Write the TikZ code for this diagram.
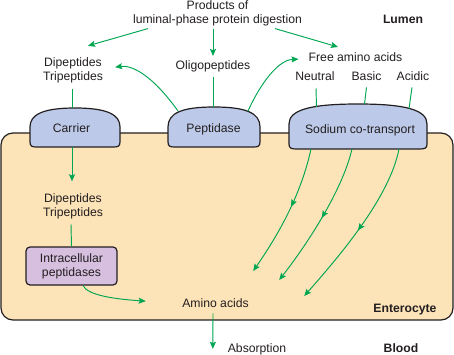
\documentclass[tikz,border=0pt]{standalone}
\usepackage{fontspec}
\setmainfont{Liberation Sans}
\usetikzlibrary{arrows.meta,decorations.markings,calc}
\definecolor{grn}{RGB}{0,166,81}
\definecolor{cellfill}{RGB}{253,227,184}
\definecolor{bumpfill}{RGB}{188,201,232}
\definecolor{boxfill}{RGB}{215,191,224}
\definecolor{ink}{RGB}{35,31,32}
\begin{document}
\begin{tikzpicture}[x=1pt,y=-1pt,
  txt/.style={inner sep=0pt, text=ink, font=\fontsize{12.2}{14}\selectfont, align=center},
  lbl/.style={inner sep=0pt, text=ink, font=\fontsize{12.2}{14}\selectfont\bfseries},
  tip/.style={-{Stealth[length=7pt,width=6pt,inset=1.2pt]}},
  flow/.style={draw=grn, line width=0.95pt, tip},
  link/.style={draw=grn, line width=0.95pt},
  outline/.style={draw=ink, line width=1.2pt},
  midarrow/.style={postaction={decorate}, decoration={markings, mark=at position #1 with {\arrow[grn]{Stealth[length=7pt,width=6pt,inset=1.2pt]}}}}
]
\useasboundingbox (0,0) rectangle (454,355);

% cell
\draw[outline, fill=cellfill, rounded corners=12pt] (1,133) rectangle (453,320);

% membrane proteins
\draw[outline, fill=bumpfill] (30,142) -- (30,127) .. controls (30,115) and (42,108) .. (75,108) .. controls (108,108) and (120,115) .. (120,127) -- (120,142) .. controls (120,146) and (118,147) .. (114,147) -- (36,147) .. controls (32,147) and (30,146) .. cycle;
\draw[outline, fill=bumpfill] (168,142) -- (168,127) .. controls (168,113) and (182,107) .. (214,107) .. controls (246,107) and (260,113) .. (260,127) -- (260,142) .. controls (260,146) and (258,147) .. (254,147) -- (174,147) .. controls (170,147) and (168,146) .. cycle;
\draw[outline, fill=bumpfill] (289,144) -- (289,124) .. controls (289,110) and (310,104) .. (358,104) .. controls (406,104) and (427,110) .. (427,124) -- (427,144) .. controls (427,148) and (425,149) .. (420,149) -- (296,149) .. controls (291,149) and (289,148) .. cycle;

\coordinate (carTop) at (72,108);
\coordinate (carBot) at (72,147);
\coordinate (pepTop) at (213,107);
\coordinate (pepL) at (178,111);
\coordinate (pepR) at (248,111);
\coordinate (naTopN) at (316.5,107);
\coordinate (naTopB) at (364.5,104);
\coordinate (naTopA) at (409,108.7);
\coordinate (naB1) at (311,149);
\coordinate (naB2) at (352,149);
\coordinate (naB3) at (399,149);

% texts
\node[txt, anchor=north] (products) at (217.5,0.3) {Products of\\luminal-phase protein digestion};
\node[lbl, anchor=base] (lumen) at (403,24) {Lumen};
\node[txt, anchor=north] (dip1) at (73,57.3) {Dipeptides\\Tripeptides};
\node[txt, anchor=base] (oligo) at (213,70) {Oligopeptides};
\node[txt, anchor=base] (free) at (355.5,62) {Free amino acids};
\node[txt, anchor=base] (neutral) at (315,81) {Neutral};
\node[txt, anchor=base] (basic) at (366.5,81) {Basic};
\node[txt, anchor=base] (acidic) at (413,81) {Acidic};
\node[txt, anchor=base] (carrier) at (71.5,133) {Carrier};
\node[txt, anchor=base] (peptidase) at (213.5,133) {Peptidase};
\node[txt, anchor=base] (sodium) at (360,133.5) {Sodium co-transport};
\node[txt, anchor=north] (dip2) at (73,193.3) {Dipeptides\\Tripeptides};
\node[txt, draw=ink, line width=1.2pt, fill=boxfill, rounded corners=4pt, minimum width=91pt, minimum height=38pt] (intra) at (71.5,266) {Intracellular\\peptidases};
\node[txt, anchor=base] (amino) at (215.5,307) {Amino acids};
\node[lbl, anchor=base] (entero) at (405,312) {Enterocyte};
\node[txt, anchor=base] (absorb) at (257,352) {Absorption};
\node[lbl, anchor=base] (blood) at (401,352) {Blood};

% lumen connectors
\draw[flow] ([xshift=-69.5pt,yshift=-2.5pt]products.south) -- ([xshift=15pt,yshift=11.5pt]dip1.north);
\draw[flow] ([xshift=-4.5pt,yshift=-2.5pt]products.south) -- ([yshift=5pt]oligo.north);
\draw[flow] ([xshift=57.5pt,yshift=-2.5pt]products.south) -- ([xshift=-17.5pt,yshift=6pt]free.north);
\draw[link] ([xshift=-1pt,yshift=-6.4pt]dip1.south) -- (carTop);
\draw[link] ([yshift=-4.5pt]oligo.south) -- (pepTop);
\draw[flow] (pepL) .. controls (150,72) and (130,65) .. ([xshift=12pt,yshift=3pt]dip1.east);
\draw[flow] (pepR) .. controls (256,93) and (275,60) .. ([xshift=-10pt,yshift=-1.5pt]free.west);
\draw[link] ([xshift=1pt,yshift=-7pt]neutral.south) -- (naTopN);
\draw[link] ([yshift=-6pt]basic.south) -- (naTopB);
\draw[link] ([xshift=-1pt,yshift=-6pt]acidic.south) -- (naTopA);

% cell connectors
\draw[flow] (carBot) -- ([xshift=-1pt,yshift=12pt]dip2.north);
\draw[link] ([xshift=-2pt,yshift=-5.4pt]dip2.south) -- (intra.north);
\draw[flow] ([xshift=11.5pt]intra.south) .. controls +(5,10) and +(-30,-2) .. ([xshift=-36.3pt,yshift=1.5pt]amino.west);
\draw[flow] ([xshift=-2.5pt,yshift=-6pt]amino.south) -- ([xshift=-14.8pt]absorb.west);
\draw[flow, midarrow=0.45] (naB1) .. controls (302,190) and (283,228) .. ([xshift=4.3pt,yshift=27pt]amino.north east);
\draw[flow, midarrow=0.5] (naB2) .. controls (342,192) and (305,247) .. ([xshift=30.3pt,yshift=18pt]amino.north east);
\draw[flow, midarrow=0.52] (naB3) .. controls (390,195) and (345,250) .. ([xshift=55.3pt,yshift=2pt]amino.north east);
\end{tikzpicture}
\end{document}
